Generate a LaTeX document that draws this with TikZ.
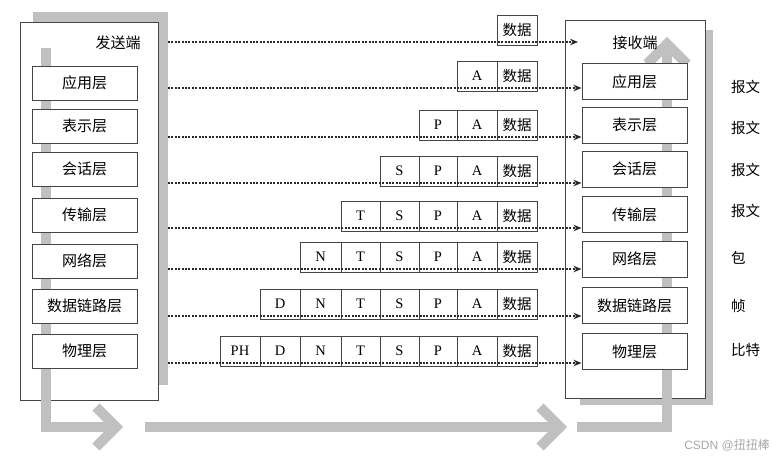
\documentclass[tikz,border=0pt]{standalone}
\usepackage{fontspec}
\setmainfont{Liberation Serif}
\newfontfamily\cjk{Noto Sans CJK SC}
\newfontfamily\wmfont{Liberation Sans}
\usetikzlibrary{arrows.meta}
\definecolor{bargray}{HTML}{C0C0C0}
\definecolor{boxline}{HTML}{444444}
\definecolor{dotcol}{HTML}{2A2A2A}
\definecolor{wmgray}{HTML}{A8A8A8}
\begin{document}
\begin{tikzpicture}[x=1pt,y=-1pt,
  outerbox/.style={draw=boxline,line width=1pt,fill=white},
  shadowbox/.style={fill=bargray},
  layerbox/.style={draw=boxline,line width=1pt,fill=white,minimum width=105pt,inner sep=0pt,font=\cjk\fontsize{15}{15}\selectfont},
  cell/.style={draw=boxline,line width=1pt,minimum height=30pt,inner sep=0pt,font=\fontsize{14.5}{14.5}\selectfont},
  bar/.style={draw=bargray,line width=10pt,line join=miter},
  chev/.style={draw=bargray,line width=10pt,line join=miter,miter limit=10},
  dotarrow/.style={draw=dotcol,line width=2pt,dash pattern=on 2pt off 1.4pt,-{Stealth[length=8pt,width=6.5pt]}},
  endlabel/.style={font=\cjk\fontsize{15}{15}\selectfont,inner sep=0pt},
  lbl/.style={font=\cjk\fontsize{14.5}{14.5}\selectfont,anchor=west,inner sep=0pt}
]
\useasboundingbox (0,0) rectangle (776,458);
\fill[white] (0,0) rectangle (776,458);

% shadows
\fill[shadowbox] (33,12) rectangle (168,385);
\fill[shadowbox] (580,30) rectangle (713,405);
% outer boxes
\draw[outerbox] (20,22) rectangle (158,400);
\draw[outerbox] (565,20) rectangle (705,398);

% gray flow arrows
\draw[bar] (46,48) -- (46,427) -- (112,427);
\draw[chev] (96,407) -- (116,427) -- (96,447);
\draw[bar] (145,427) -- (555,427);
\draw[chev] (540,407) -- (560,427) -- (540,447);
\draw[bar] (577,427) -- (667,427) -- (667,46);
\draw[chev] (647,64) -- (667,44) -- (687,64);

% left layers
\node[layerbox,minimum height=34pt] (lA) at (84.5,83) {应用层};
\node[layerbox,minimum height=34pt] (lP) at (84.5,126) {表示层};
\node[layerbox,minimum height=34pt] (lS) at (84.5,169) {会话层};
\node[layerbox,minimum height=34pt] (lT) at (84.5,215) {传输层};
\node[layerbox,minimum height=34pt] (lN) at (84.5,261) {网络层};
\node[layerbox,minimum height=34pt] (lD) at (84.5,306) {数据链路层};
\node[layerbox,minimum height=34pt] (lH) at (84.5,351) {物理层};

% right layers
\node[layerbox,minimum height=36pt] (rA) at (634.5,81.5) {应用层};
\node[layerbox,minimum height=36pt] (rP) at (634.5,125) {表示层};
\node[layerbox,minimum height=36pt] (rS) at (634.5,169) {会话层};
\node[layerbox,minimum height=36pt] (rT) at (634.5,214.5) {传输层};
\node[layerbox,minimum height=36pt] (rN) at (634.5,259) {网络层};
\node[layerbox,minimum height=36pt] (rD) at (634.5,305.5) {数据链路层};
\node[layerbox,minimum height=36pt] (rH) at (634.5,351.5) {物理层};

% end labels
\node[endlabel] (snd) at (118,43) {发送端};
\node[endlabel] (rcv) at (635,43) {接收端};

% unit labels
\node[lbl] (m1) at (731,87) {报文};
\node[lbl] (m2) at (731,128) {报文};
\node[lbl] (m3) at (731,170) {报文};
\node[lbl] (m4) at (731,211) {报文};
\node[lbl] (m5) at (731,258) {包};
\node[lbl] (m6) at (731,306) {帧};
\node[lbl] (m7) at (731,350) {比特};

% packet cells
\foreach \ly [count=\r from 0] in {42,88,137,183,228,269,316,363} {
  \foreach \lab/\xl/\xr [count=\k from 0] in {PH/220/260,D/260/300,N/300/341,T/341/380,S/380/419,P/419/457,A/457/497,{\cjk 数据}/497/537} {
    \ifnum\k<\numexpr7-\r\relax\else
      \pgfmathsetmacro\cw{\xr-\xl}
      \pgfmathsetmacro\cx{(\xl+\xr)/2}
      \pgfmathsetmacro\cy{\ly-12}
      \node[cell,minimum width=\cw pt] (c\r-\k) at (\cx,\cy) {\lab};
    \fi
  }
}

% dotted connectors
\coordinate (s0) at (168,42);
\coordinate (e0) at (578,42);
\coordinate (s1) at (168,88);
\coordinate (s2) at (168,137);
\coordinate (s3) at (168,183);
\coordinate (s4) at (168,228);
\coordinate (s5) at (168,269);
\coordinate (s6) at (168,316);
\coordinate (s7) at (168,363);
\draw[dotarrow] (s0) -- (e0);
\draw[dotarrow] (s1) -- (s1 -| rA.west);
\draw[dotarrow] (s2) -- (s2 -| rP.west);
\draw[dotarrow] (s3) -- (s3 -| rS.west);
\draw[dotarrow] (s4) -- (s4 -| rT.west);
\draw[dotarrow] (s5) -- (s5 -| rN.west);
\draw[dotarrow] (s6) -- (s6 -| rD.west);
\draw[dotarrow] (s7) -- (s7 -| rH.west);

% watermark
\node[text=wmgray,inner sep=0pt,anchor=east] (wm) at (770,445) {\wmfont\fontsize{12}{12}\selectfont CSDN @\cjk 扭扭棒};
\end{tikzpicture}
\end{document}
